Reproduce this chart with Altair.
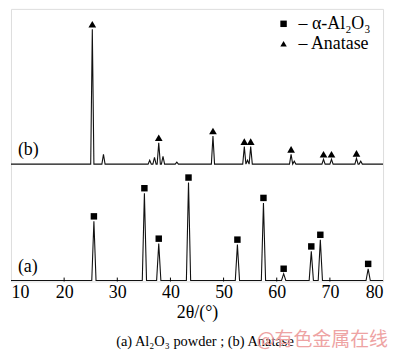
import altair as alt
import pandas as pd

# ---- data ----
# (a) alpha-Al2O3 powder: peak positions (2theta, deg) and heights above baseline
a_pos = [25.6, 35.1, 37.8, 43.4, 52.6, 57.5, 61.3, 66.5, 68.2, 77.2]
a_int = [61, 90, 38, 101, 37, 80, 7, 30, 42, 12]
# (b) anatase
b_pos = [25.3, 27.4, 36.1, 37.0, 37.8, 38.6, 41.2, 48.0, 53.9, 54.5, 55.1, 62.7, 63.3, 68.8, 70.3, 75.0, 75.8]
b_int = [139, 10, 4, 7, 22, 8, 2, 29, 18, 4, 18, 10, 3, 5, 5, 6, 3]
# peaks flagged with a symbol
b_marked = [25.3, 37.8, 48.0, 53.9, 55.1, 62.7, 68.8, 70.3, 75.0]

phases = ["α-Al₂O₃", "Anatase"]
x_ticks = [10, 20, 30, 40, 50, 60, 70, 80]
inner_ticks = [20, 30, 40, 50, 60, 70]
panel_labels = ["(a)", "(b)"]
caption = "(a) Al₂O₃  powder ; (b) Anatase"
watermark = "@有色金属在线"

A_BASE, B_BASE = 1, 121   # vertical offsets of the two patterns
A_W, B_W = 0.4, 0.3       # half-width of each drawn peak (deg)

rows = []
def build(name, base, pos, inten, w):
    pts = [(10.0, base)]
    for p, h in sorted(zip(pos, inten)):
        pts += [(p - w, base), (p, base + h), (p + w, base)]
    pts.append((80.0, base))
    for i, (x, y) in enumerate(pts):
        rows.append(dict(pattern=name, i=i, x=x, y=y))

build("a", A_BASE, a_pos, a_int, A_W)
build("b", B_BASE, b_pos, b_int, B_W)
spec_df = pd.DataFrame(rows)

mk_a = pd.DataFrame([dict(pos=p, top=A_BASE + h, phase=phases[0]) for p, h in zip(a_pos, a_int)])
mk_b = pd.DataFrame([dict(pos=p, top=B_BASE + h, phase=phases[1])
                     for p, h in zip(b_pos, b_int) if p in b_marked])

lab_df = pd.DataFrame({"x": [11.3, 11.3], "y": [A_BASE + 14, B_BASE + 14], "t": panel_labels})
tick_df = pd.DataFrame({"t": inner_ticks})
wm_df = pd.DataFrame({"t": [watermark]})
cap_df = pd.DataFrame({"t": [caption]})

SERIF = "Liberation Serif"

xscale = alt.Scale(domain=[10, 80], nice=False)
yscale = alt.Scale(domain=[0, 281], nice=False, zero=False)
shape_scale = alt.Scale(domain=phases, range=["square", "triangle-up"])

line = alt.Chart(spec_df).mark_line(color="#111111", strokeWidth=1.1).encode(
    x=alt.X("x:Q", scale=xscale,
            axis=alt.Axis(values=x_ticks, ticks=False, domain=False, grid=False,
                          labelFont=SERIF, labelFontSize=18, labelColor="black",
                          labelPadding=2, title="2θ/(°)", titleFont=SERIF,
                          titleFontSize=18, titleFontWeight="normal",
                          titleColor="black", titlePadding=2)),
    y=alt.Y("y:Q", scale=yscale, axis=None),
    detail="pattern:N",
    order="i:Q",
)

legend = alt.Legend(title=None, orient="none", legendX=265, legendY=6,
                    labelFont=SERIF, labelFontSize=18, labelColor="black",
                    labelExpr="'– ' + datum.label",
                    symbolFillColor="black", symbolStrokeColor="black",
                    symbolSize=42, labelOffset=6, padding=0, rowPadding=2)

sq = alt.Chart(mk_a).mark_point(filled=True, color="black", opacity=1, size=42).encode(
    x=alt.X("pos:Q", scale=xscale),
    y=alt.Y("top:Q", scale=yscale),
    yOffset=alt.value(-5),
    shape=alt.Shape("phase:N", scale=shape_scale, legend=legend),
)

tri = alt.Chart(mk_b).mark_point(filled=True, color="black", opacity=1, size=60).encode(
    x=alt.X("pos:Q", scale=xscale),
    y=alt.Y("top:Q", scale=yscale),
    yOffset=alt.value(-5),
    shape=alt.Shape("phase:N", scale=shape_scale, legend=legend),
)

ticks = alt.Chart(tick_df).mark_rule(color="black", strokeWidth=1).encode(
    x=alt.X("t:Q", scale=xscale),
    y=alt.datum(0, scale=yscale),
    y2=alt.datum(4),
)

labels = alt.Chart(lab_df).mark_text(align="left", baseline="middle", font=SERIF,
                                     fontSize=18, color="black").encode(
    x=alt.X("x:Q", scale=xscale), y=alt.Y("y:Q", scale=yscale), text="t:N")

cap = alt.Chart(cap_df).mark_text(align="center", baseline="middle", font=SERIF,
                                  fontSize=14.5, color="black").encode(
    x=alt.value(195), y=alt.value(335), text="t:N")

wm = alt.Chart(wm_df).mark_text(align="left", baseline="middle", font="Noto Sans CJK SC",
                                fontSize=19, color="#eea3a3").encode(
    x=alt.value(247), y=alt.value(333), text="t:N")

chart = alt.layer(line, ticks, sq, tri, labels, cap, wm).properties(
    width=374, height=274,
    padding={"left": 0, "top": 0, "right": 4, "bottom": 0},
).configure_view(stroke="black", strokeWidth=1.2).configure(background="white")

chart.save("out.html", embed_options={"renderer": "svg", "actions": False})
